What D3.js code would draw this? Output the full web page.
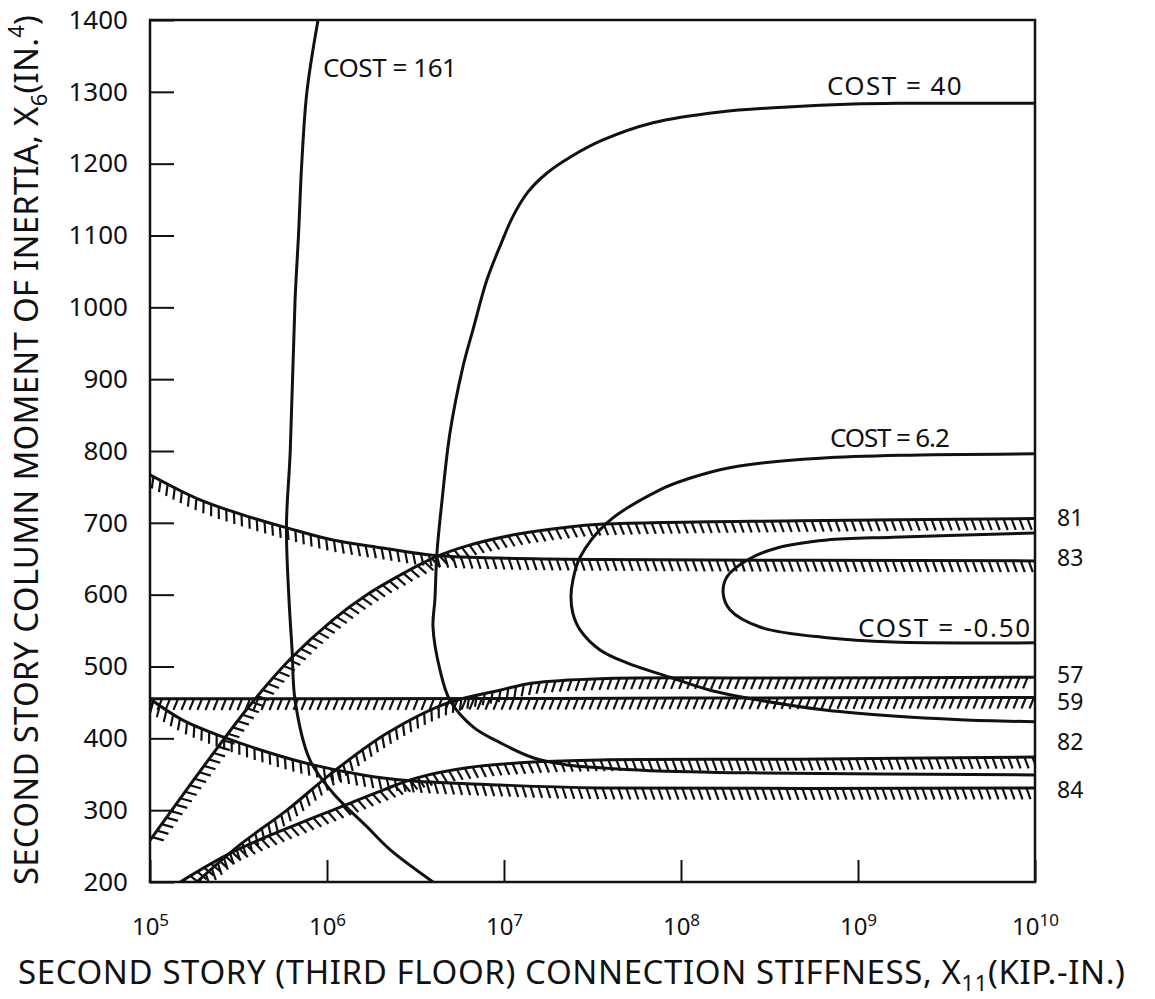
<!DOCTYPE html>
<html>
<head>
<meta charset="utf-8">
<script src="https://cdn.jsdelivr.net/npm/d3@7"></script>
<style>
  html, body { margin: 0; padding: 0; background: #fff; }
  svg { display: block; }
  text { font-family: "Noto Sans", "DejaVu Sans", sans-serif; fill: #111; }
</style>
</head>
<body>
<svg id="chart" width="1155" height="999"></svg>
<script>
// Connection stiffness X11 (kip-in.) against column moment of inertia X6 (in.^4):
// cost contours and hatched constraint boundaries.

const xTicks = [1e5, 1e6, 1e7, 1e8, 1e9, 1e10];
const xTickExponents = ["5", "6", "7", "8", "9", "10"];
const yTicks = [200, 300, 400, 500, 600, 700, 800, 900, 1000, 1100, 1200, 1300, 1400];

// cost contours, [X11, X6]
const cost161 = [[8.9e5, 1400], [7.7e5, 1300], [7.2e5, 1200], [6.9e5, 1100], [6.6e5, 1010],
  [6.2e5, 800], [5.9e5, 695], [6.1e5, 593], [6.35e5, 523], [6.6e5, 453], [8.0e5, 370],
  [1.08e6, 324], [1.68e6, 277], [2.27e6, 245], [3.97e6, 200]];
const cost40 = [[1e10, 1284], [1.73e9, 1284], [9.4e8, 1283], [4.0e8, 1279], [1.66e8, 1272],
  [6.95e7, 1257], [3.62e7, 1233], [2.4e7, 1210], [1.75e7, 1187], [1.36e7, 1160], [1.12e7, 1126],
  [9.6e6, 1088], [8.0e6, 1038], [6.7e6, 970],
  [5.86e6, 917], [4.95e6, 825], [4.47e6, 732], [4.18e6, 658], [4.07e6, 593], [3.97e6, 555],
  [4.35e6, 495], [4.95e6, 453], [6.68e6, 416], [9.5e6, 394], [1.46e7, 373], [2.27e7, 363],
  [3.49e7, 359], [6.68e7, 355], [2.45e8, 352], [1e10, 349]];
const cost6p2 = [[1e10, 796], [1.73e9, 794], [6.1e8, 790], [2.79e8, 783], [1.66e8, 774],
  [1.12e8, 762], [7.6e7, 746], [3.82e7, 700], [2.69e7, 652], [2.45e7, 620], [2.39e7, 597],
  [2.45e7, 574], [2.69e7, 551], [3.49e7, 523], [4.95e7, 505], [8.67e7, 485], [1.46e8, 467],
  [2.79e8, 453], [6.68e8, 439], [1.58e9, 431], [3.77e9, 426], [1e10, 423]];
const costNeg050 = [[1e10, 686], [1.58e9, 680], [6.68e8, 676], [3.49e8, 665], [2.36e8, 648],
  [1.82e8, 625], [1.73e8, 602], [1.89e8, 579], [2.79e8, 555], [6.68e8, 540], [1.58e9, 534],
  [1e10, 533]];

// constraint boundaries, [X11, X6]
const constraint81 = [[1e5, 258], [1.54e5, 322], [2.39e5, 386], [3.67e5, 446], [6.18e5, 510],
  [1.08e6, 565], [1.68e6, 600], [2.58e6, 627], [3.97e6, 651], [6.18e6, 668], [1.18e7, 684],
  [2.27e7, 694], [3.49e7, 698], [4.7e8, 703], [1e10, 706]];
const constraint83 = [[1e5, 767], [1.92e5, 732], [3.67e5, 708], [5.94e5, 693], [1.08e6, 676],
  [2.07e6, 665], [3.97e6, 655], [9.5e6, 651], [3.49e7, 649], [1e10, 647]];
const constraint57 = [[1.84e5, 200], [3.23e5, 252], [5.94e5, 300], [1.08e6, 353], [2.18e6, 407],
  [4.76e6, 449], [9.5e6, 467], [1.46e7, 477], [3.49e7, 483], [4.7e8, 484], [1e10, 485]];
const constraint59 = [[1e5, 455], [1e6, 455], [1e8, 456], [1e10, 457]];
const constraint82 = [[1.48e5, 200], [2.94e5, 242], [7.04e5, 282], [1.18e6, 304], [2.07e6, 328],
  [3.22e6, 345], [6.18e6, 359], [1.46e7, 367], [3.49e7, 370], [4.7e8, 371], [1e10, 374]];
const constraint84 = [[1e5, 455], [1.54e5, 425], [2.58e5, 402], [4.58e5, 381], [8.33e5, 363],
  [1.68e6, 348], [2.94e6, 341], [9.5e6, 335], [3.49e7, 331], [1e10, 331]];

const constraintNames = ["81", "83", "57", "59", "82", "84"];
const constraintLabelLevels = [707, 652, 489, 451, 395, 328];

const costNames = ["COST = 161", "COST = 40", "COST = 6.2", "COST = -0.50"];

// ---------------------------------------------------------------------------
const svg = d3.select("#chart");
const margin = { left: 150, right: 120, top: 20, bottom: 117 };
const W = 1155, H = 999;

const x = d3.scaleLog().domain([1e5, 1e10]).range([margin.left, W - margin.right]);
const y = d3.scaleLinear().domain([200, 1400]).range([H - margin.bottom, margin.top]);

svg.append("defs").append("clipPath").attr("id", "plot-clip")
  .append("rect")
  .attr("x", x.range()[0]).attr("y", y.range()[1])
  .attr("width", x.range()[1] - x.range()[0])
  .attr("height", y.range()[0] - y.range()[1]);

// axes
const yAxis = d3.axisLeft(y).tickValues(yTicks).tickSizeInner(-24).tickSizeOuter(0)
  .tickPadding(22).tickFormat(d3.format("d"));
const gy = svg.append("g").attr("transform", `translate(${x.range()[0]},0)`).call(yAxis);
gy.select(".domain").remove();
gy.selectAll(".tick line").attr("stroke", "#111").attr("stroke-width", 2);
gy.selectAll(".tick text").attr("font-size", 26).attr("fill", "#111");

const xAxis = d3.axisBottom(x).tickValues(xTicks).tickSizeInner(-22).tickSizeOuter(0)
  .tickPadding(36).tickFormat(() => "10");
const gx = svg.append("g").attr("transform", `translate(0,${y.range()[0]})`).call(xAxis);
gx.select(".domain").remove();
gx.selectAll(".tick line").attr("stroke", "#111").attr("stroke-width", 2);
gx.selectAll(".tick text").attr("font-size", 24).attr("fill", "#111")
  .append("tspan").attr("dy", "-0.55em").attr("font-size", 17)
  .text((d, i) => xTickExponents[i]);

// frame
svg.append("rect")
  .attr("x", x.range()[0]).attr("y", y.range()[1])
  .attr("width", x.range()[1] - x.range()[0])
  .attr("height", y.range()[0] - y.range()[1])
  .attr("fill", "none").attr("stroke", "#111").attr("stroke-width", 2.5);

// curves
const line = d3.line().x(d => x(d[0])).y(d => y(d[1])).curve(d3.curveCatmullRom.alpha(0.5));
const plot = svg.append("g").attr("clip-path", "url(#plot-clip)");

[cost161, cost40, cost6p2, costNeg050].forEach(c => {
  plot.append("path").attr("d", line(c))
    .attr("fill", "none").attr("stroke", "#111").attr("stroke-width", 3)
    .attr("stroke-linejoin", "round");
});

// hatch marks along the infeasible side of a boundary
function hatch(pathNode, slantDeg, len, step) {
  const L = pathNode.getTotalLength();
  const a = slantDeg * Math.PI / 180;
  let d = "";
  for (let s = step / 2; s < L; s += step) {
    const p = pathNode.getPointAtLength(s);
    const p0 = pathNode.getPointAtLength(Math.max(0, s - 1.5));
    const p1 = pathNode.getPointAtLength(Math.min(L, s + 1.5));
    let tx = p1.x - p0.x, ty = p1.y - p0.y;
    const m = Math.hypot(tx, ty) || 1;
    tx /= m; ty /= m;
    const nx = -ty, ny = tx;
    const hx = nx * Math.cos(a) - ny * Math.sin(a);
    const hy = nx * Math.sin(a) + ny * Math.cos(a);
    d += `M${p.x.toFixed(1)},${p.y.toFixed(1)}l${(hx * len).toFixed(1)},${(hy * len).toFixed(1)}`;
  }
  return d;
}

const constraints = [constraint81, constraint83, constraint57, constraint59, constraint82, constraint84];
const slants = [-20, -20, 22, 22, -20, -20];
constraints.forEach((c, i) => {
  const p = plot.append("path").attr("d", line(c))
    .attr("fill", "none").attr("stroke", "#111").attr("stroke-width", 3);
  plot.append("path").attr("d", hatch(p.node(), slants[i], 12, 8))
    .attr("fill", "none").attr("stroke", "#111").attr("stroke-width", 2.2);
});

// constraint numbers at the right edge
svg.append("g").selectAll("text").data(constraintNames).join("text")
  .attr("x", x.range()[1] + 22)
  .attr("y", (d, i) => y(constraintLabelLevels[i]))
  .attr("dy", "0.36em")
  .attr("font-size", 23)
  .text(d => d);

// cost contour labels: [start X11, baseline X6, end X11]
const costLabelAt = [[9.5e5, 1321, 5.42e6], [6.68e8, 1296, 3.85e9], [6.95e8, 806, 3.3e9], [1e9, 541, 9.4e9]];
svg.append("g").selectAll("text").data(costNames).join("text")
  .attr("x", (d, i) => x(costLabelAt[i][0]))
  .attr("y", (d, i) => y(costLabelAt[i][1]))
  .attr("font-size", 26)
  .attr("textLength", (d, i) => x(costLabelAt[i][2]) - x(costLabelAt[i][0]))
  .attr("lengthAdjust", "spacing")
  .text(d => d);

// axis titles
const xt = svg.append("text")
  .attr("x", 18).attr("y", 984)
  .attr("font-size", 33)
  .attr("textLength", 1107).attr("lengthAdjust", "spacing");
xt.append("tspan").text("SECOND STORY (THIRD FLOOR) CONNECTION STIFFNESS, X");
xt.append("tspan").attr("dy", 7).attr("font-size", 22).text("11");
xt.append("tspan").attr("dy", -7).text("(KIP.-IN.)");

const yt = svg.append("text")
  .attr("transform", "translate(38,885) rotate(-90)")
  .attr("font-size", 33)
  .attr("textLength", 870).attr("lengthAdjust", "spacing");
yt.append("tspan").text("SECOND STORY COLUMN MOMENT OF INERTIA, X");
yt.append("tspan").attr("dy", 9).attr("font-size", 22).text("6");
yt.append("tspan").attr("dy", -9).text("(IN.");
yt.append("tspan").attr("dy", -14).attr("font-size", 22).text("4");
yt.append("tspan").attr("dy", 14).text(")");
</script>
</body>
</html>
